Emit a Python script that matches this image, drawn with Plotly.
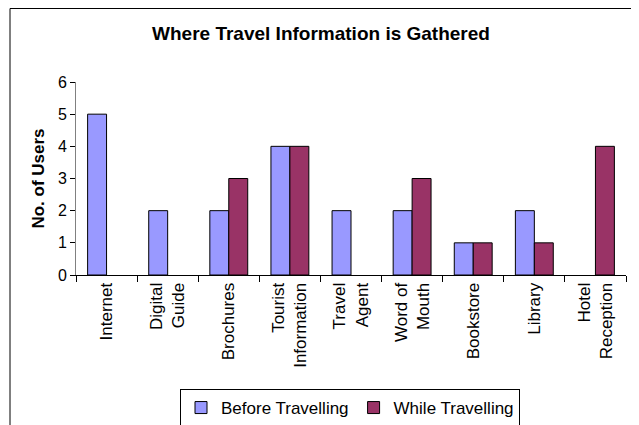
import plotly.graph_objects as go

categories = ["Internet", "Digital<br>Guide", "Brochures", "Tourist<br>Information", "Travel<br>Agent",
              "Word of<br>Mouth", "Bookstore", "Library", "Hotel<br>Reception"]
before = [5, 2, 2, 4, 2, 2, 1, 2, None]
while_ = [None, None, 3, 4, None, 3, 1, 1, 4]
y_ticks = [0, 1, 2, 3, 4, 5, 6]

font = "Liberation Sans, Arial, sans-serif"

# page body has an 8px margin; target positions are in screen pixels
O = 8
FW, FH = 639, 425
L, R, T, B = 76 - O, 626 - O, 82 - O, 275 - O
W, H = R - L, B - T

def px_x(sx):
    return (sx - O - L) / W

def px_y(sy):
    return (B - (sy - O)) / H

fig = go.Figure()
fig.add_trace(go.Bar(name="Before Travelling", x=categories, y=before,
                     marker=dict(color="#9999FF", line=dict(color="black", width=1))))
fig.add_trace(go.Bar(name="While Travelling", x=categories, y=while_,
                     marker=dict(color="#993366", line=dict(color="black", width=1))))

fig.update_layout(
    width=FW, height=FH,
    margin=dict(l=L, r=FW - R, t=T, b=FH - B, autoexpand=False),
    paper_bgcolor="white", plot_bgcolor="white",
    font=dict(family=font, size=17, color="black"),
    barmode="group", bargap=0.38, bargroupgap=0,
    title=dict(text="<b>Where Travel Information is Gathered</b>", x=(321 - O) / FW, xanchor="center",
               y=1 - (34 - O - 1) / FH, yanchor="middle", font=dict(size=19, family=font)),
    showlegend=True,
    legend=dict(orientation="h", x=px_x(350), xanchor="center", y=px_y(389), yanchor="top",
                bordercolor="black", borderwidth=1, font=dict(size=17),
                itemwidth=30, tracegroupgap=0),
    shapes=[dict(type="rect", xref="paper", yref="paper", x0=px_x(10), x1=px_x(637),
                 y0=px_y(450), y1=px_y(O + 0.5),
                 line=dict(color="black", width=1), layer="below")],
)
fig.update_xaxes(showline=True, linecolor="black", linewidth=1, ticks="outside", ticklen=6,
                 tickcolor="black", tickson="boundaries", tickangle=-90, showgrid=False,
                 tickfont=dict(size=17), mirror=False, automargin=False)
fig.update_yaxes(range=[0, 6], tickvals=y_ticks, showline=True, linecolor="#808080", linewidth=1,
                 ticks="outside", ticklen=5, tickcolor="black", showgrid=False, zeroline=False,
                 tickfont=dict(size=16), automargin=False,
                 title=dict(text="<b>No. of Users</b>", font=dict(size=17), standoff=8))

fig.write_html("out.html")
